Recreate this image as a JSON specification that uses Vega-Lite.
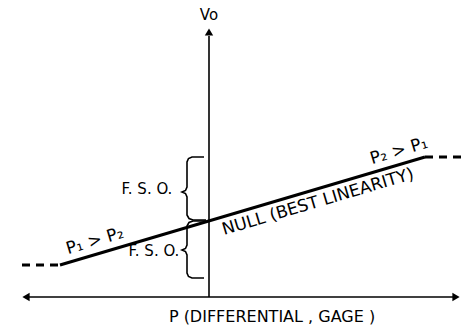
{
  "$schema": "https://vega.github.io/schema/vega-lite/v6.json",
  "width": 471,
  "height": 327,
  "autosize": {"type": "fit", "contains": "padding"},
  "padding": 0,
  "background": "white",
  "config": {"view": {"stroke": null}},
  "datasets": {
    "axes": [
      {"seg": "v", "o": 0, "x": 209, "y": 36},
      {"seg": "v", "o": 1, "x": 209, "y": 297},
      {"seg": "h", "o": 0, "x": 26, "y": 297},
      {"seg": "h", "o": 1, "x": 456, "y": 297}
    ],
    "main": [
      {"seg": "m", "o": 0, "x": 60, "y": 265},
      {"seg": "m", "o": 1, "x": 425, "y": 157}
    ],
    "dashes": [
      {"seg": "l", "o": 0, "x": 22, "y": 265},
      {"seg": "l", "o": 1, "x": 60, "y": 265},
      {"seg": "r", "o": 0, "x": 425, "y": 157},
      {"seg": "r", "o": 1, "x": 464, "y": 157}
    ],
    "braces": [
      {"seg": "u", "o": 0, "x": 204, "y": 157},
      {"seg": "u", "o": 1, "x": 192, "y": 157},
      {"seg": "u", "o": 2, "x": 188.5, "y": 158.5},
      {"seg": "u", "o": 3, "x": 187, "y": 162},
      {"seg": "u", "o": 4, "x": 187, "y": 187},
      {"seg": "u", "o": 5, "x": 185.5, "y": 190.5},
      {"seg": "u", "o": 6, "x": 182, "y": 192},
      {"seg": "u", "o": 7, "x": 185.5, "y": 193.5},
      {"seg": "u", "o": 8, "x": 187, "y": 197},
      {"seg": "u", "o": 9, "x": 187, "y": 215},
      {"seg": "u", "o": 10, "x": 189, "y": 218.5},
      {"seg": "u", "o": 11, "x": 193, "y": 220},
      {"seg": "u", "o": 12, "x": 206, "y": 220},
      {"seg": "d", "o": 0, "x": 206, "y": 221},
      {"seg": "d", "o": 1, "x": 193, "y": 221},
      {"seg": "d", "o": 2, "x": 189, "y": 222.5},
      {"seg": "d", "o": 3, "x": 187, "y": 226},
      {"seg": "d", "o": 4, "x": 187, "y": 245},
      {"seg": "d", "o": 5, "x": 185.5, "y": 248.5},
      {"seg": "d", "o": 6, "x": 182, "y": 250},
      {"seg": "d", "o": 7, "x": 185.5, "y": 251.5},
      {"seg": "d", "o": 8, "x": 187, "y": 255},
      {"seg": "d", "o": 9, "x": 187, "y": 273},
      {"seg": "d", "o": 10, "x": 188.5, "y": 276.5},
      {"seg": "d", "o": 11, "x": 192, "y": 278},
      {"seg": "d", "o": 12, "x": 204, "y": 278}
    ],
    "arrows": [
      {"dir": "up", "x": 209, "y": 32},
      {"dir": "left", "x": 26, "y": 297},
      {"dir": "right", "x": 456, "y": 297}
    ],
    "labels": [
      {"label": "Vo", "x": 209, "y": 15},
      {"label": "F. S. O.", "x": 147, "y": 189},
      {"label": "F. S. O.", "x": 154, "y": 251}
    ],
    "title": [
      {"label": "P  (DIFFERENTIAL , GAGE )", "x": 272, "y": 317}
    ],
    "slanted": [
      {"label": "NULL (BEST LINEARITY)", "x": 318, "y": 202},
      {"label": "P₁ > P₂", "x": 95, "y": 241},
      {"label": "P₂ > P₁", "x": 399, "y": 151}
    ]
  },
  "layer": [
    {
      "data": {"name": "axes"},
      "mark": {"type": "line", "color": "black", "strokeWidth": 1.6},
      "encoding": {
        "x": {"field": "x", "type": "quantitative", "scale": {"domain": [0, 471], "nice": false, "zero": false}, "axis": null},
        "y": {"field": "y", "type": "quantitative", "scale": {"domain": [0, 327], "nice": false, "zero": false, "reverse": true}, "axis": null},
        "detail": {"field": "seg"},
        "order": {"field": "o"}
      }
    },
    {
      "data": {"name": "main"},
      "mark": {"type": "line", "color": "black", "strokeWidth": 3},
      "encoding": {
        "x": {"field": "x", "type": "quantitative"},
        "y": {"field": "y", "type": "quantitative"},
        "detail": {"field": "seg"},
        "order": {"field": "o"}
      }
    },
    {
      "data": {"name": "dashes"},
      "mark": {"type": "line", "color": "black", "strokeWidth": 3, "strokeDash": [8, 6]},
      "encoding": {
        "x": {"field": "x", "type": "quantitative"},
        "y": {"field": "y", "type": "quantitative"},
        "detail": {"field": "seg"},
        "order": {"field": "o"}
      }
    },
    {
      "data": {"name": "braces"},
      "mark": {"type": "line", "color": "black", "strokeWidth": 1.6, "interpolate": "linear"},
      "encoding": {
        "x": {"field": "x", "type": "quantitative"},
        "y": {"field": "y", "type": "quantitative"},
        "detail": {"field": "seg"},
        "order": {"field": "o"}
      }
    },
    {
      "data": {"name": "arrows"},
      "transform": [{"filter": "datum.dir == 'up'"}],
      "mark": {"type": "point", "shape": "triangle-up", "filled": true, "color": "black", "size": 70, "opacity": 1},
      "encoding": {
        "x": {"field": "x", "type": "quantitative"},
        "y": {"field": "y", "type": "quantitative"}
      }
    },
    {
      "data": {"name": "arrows"},
      "transform": [{"filter": "datum.dir == 'left'"}],
      "mark": {"type": "point", "shape": "triangle-left", "filled": true, "color": "black", "size": 70, "opacity": 1},
      "encoding": {
        "x": {"field": "x", "type": "quantitative"},
        "y": {"field": "y", "type": "quantitative"}
      }
    },
    {
      "data": {"name": "arrows"},
      "transform": [{"filter": "datum.dir == 'right'"}],
      "mark": {"type": "point", "shape": "triangle-right", "filled": true, "color": "black", "size": 70, "opacity": 1},
      "encoding": {
        "x": {"field": "x", "type": "quantitative"},
        "y": {"field": "y", "type": "quantitative"}
      }
    },
    {
      "data": {"name": "labels"},
      "mark": {"type": "text", "font": "DejaVu Sans", "fontSize": 15, "color": "black", "align": "center", "baseline": "middle"},
      "encoding": {
        "x": {"field": "x", "type": "quantitative"},
        "y": {"field": "y", "type": "quantitative"},
        "text": {"field": "label"}
      }
    },
    {
      "data": {"name": "title"},
      "mark": {"type": "text", "font": "DejaVu Sans", "fontSize": 16, "color": "black", "align": "center", "baseline": "middle"},
      "encoding": {
        "x": {"field": "x", "type": "quantitative"},
        "y": {"field": "y", "type": "quantitative"},
        "text": {"field": "label"}
      }
    },
    {
      "data": {"name": "slanted"},
      "mark": {"type": "text", "font": "DejaVu Sans", "fontSize": 17, "color": "black", "align": "center", "baseline": "middle", "angle": 343.5},
      "encoding": {
        "x": {"field": "x", "type": "quantitative"},
        "y": {"field": "y", "type": "quantitative"},
        "text": {"field": "label"}
      }
    }
  ]
}
